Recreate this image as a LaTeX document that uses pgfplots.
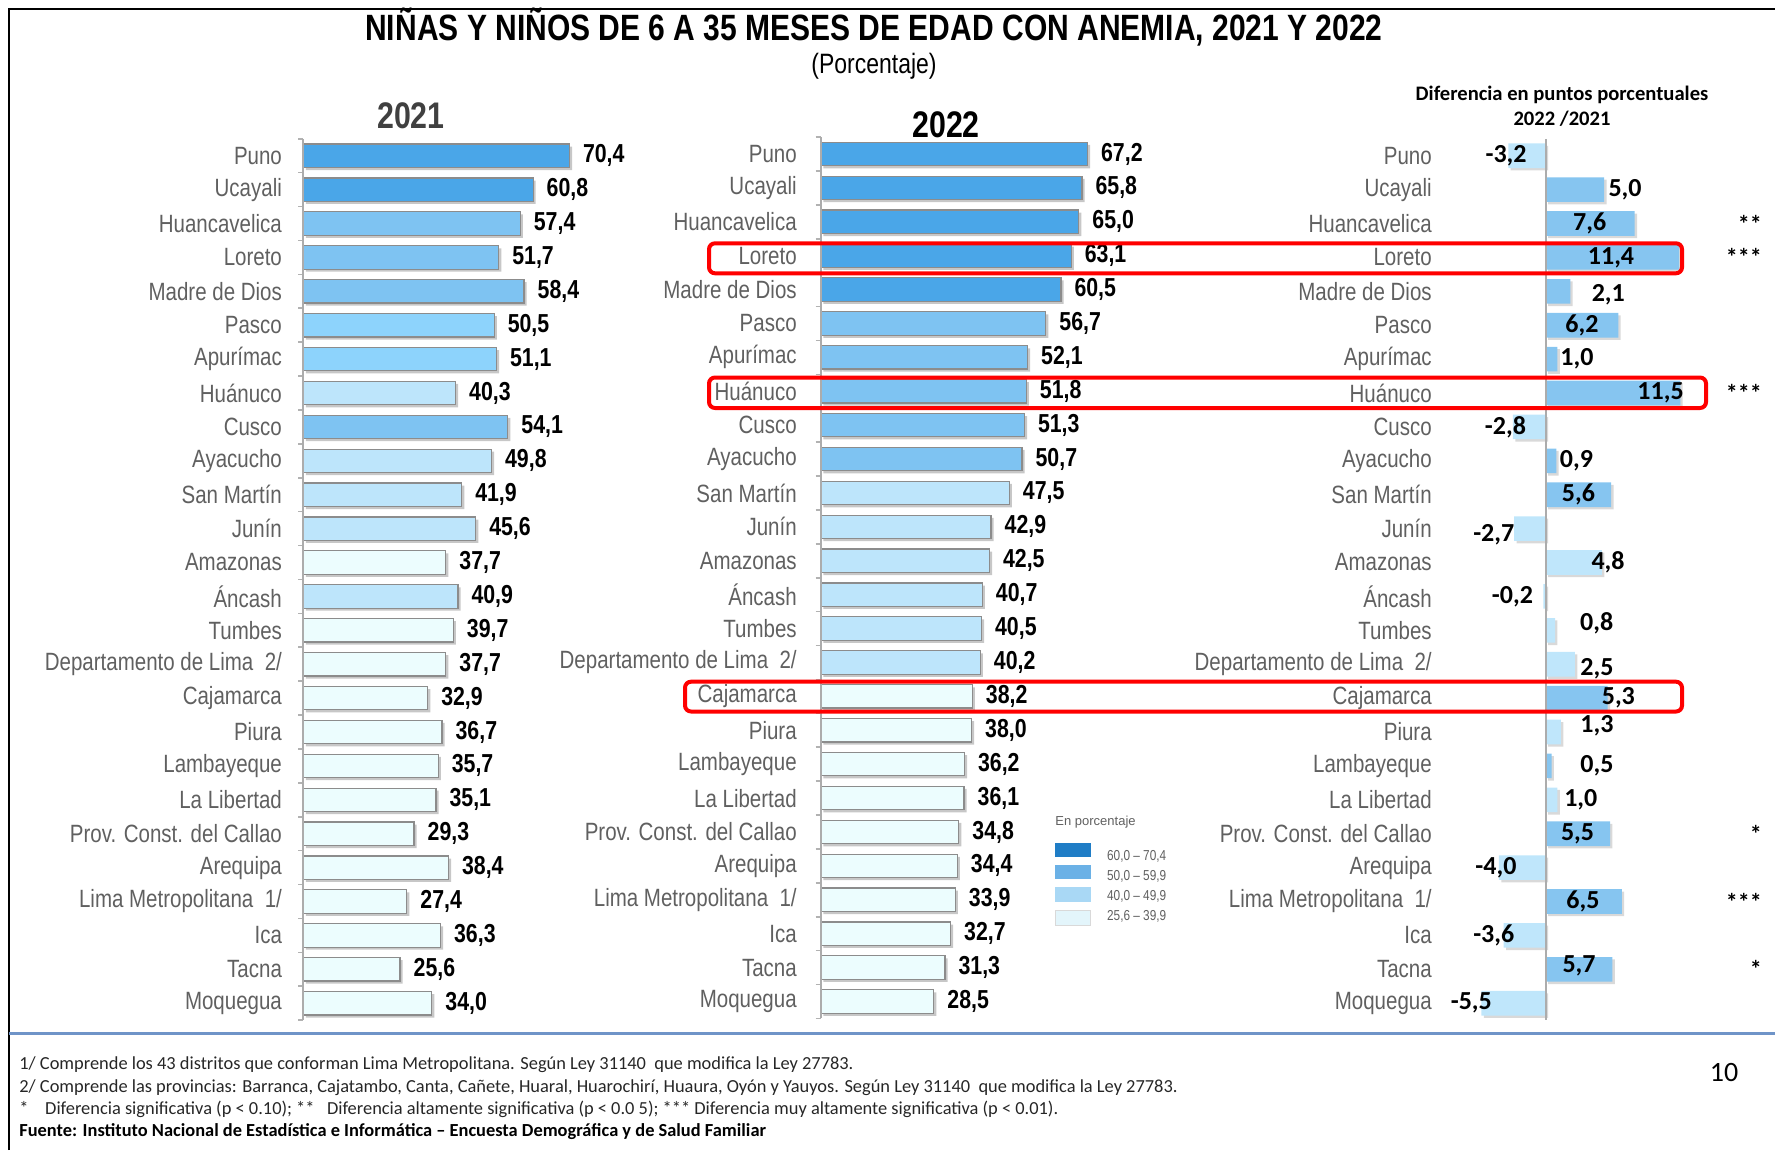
\documentclass[border=0pt]{standalone}
\usepackage{pgfplots}
\pgfplotsset{compat=1.18}
\usepackage{fontspec}
\setmainfont{Liberation Sans}
\newfontfamily\nar[FakeStretch=0.82]{Liberation Sans}
\newfontfamily\calfont{Carlito}

\definecolor{cA}{HTML}{4AA6E8}
\definecolor{cB}{HTML}{7EC3F2}
\definecolor{cBb}{HTML}{8DD3FC}
\definecolor{cC}{HTML}{BDE5FB}
\definecolor{cD}{HTML}{ECFDFE}
\definecolor{dM}{HTML}{86C5F0}
\definecolor{dL}{HTML}{BFE6FB}
\definecolor{catgray}{HTML}{606060}
\definecolor{barline}{HTML}{8C8C8C}
\definecolor{lg1}{HTML}{1F7DC6}
\definecolor{lg2}{HTML}{6BB1E6}
\definecolor{lg3}{HTML}{A9D8F5}
\definecolor{lg4}{HTML}{E3F5FB}
\definecolor{sepblue}{HTML}{6F94C8}

\pgfplotsset{
  panel/.style={
    scale only axis, height=440.7pt, ymin=-0.5, ymax=25.5, y dir=reverse,
    separate axis lines, axis line style={draw=none},
    xtick=\empty, ytick={0,...,25}, major tick length=0pt, major tick style={draw=none},
    yticklabels={Puno,Ucayali,Huancavelica,Loreto,Madre de Dios,Pasco,Apurímac,Huánuco,Cusco,Ayacucho,San Martín,Junín,Amazonas,Áncash,Tumbes,Departamento de Lima~~2/,Cajamarca,Piura,Lambayeque,La Libertad,Prov. Const. del Callao,Arequipa,Lima Metropolitana~~1/,Ica,Tacna,Moquegua},
    yticklabel style={font=\nar\fontsize{12.5}{14}\selectfont, text=catgray, anchor=east, inner sep=0pt},
    clip=false,
  },
  sidet/.style={
    minor ytick={-0.5,0.5,...,25.5}, ytick pos=left, tick align=outside,
    minor tick length=2.5pt, minor tick style={draw=gray!60, line width=0.8pt},
  },
  hb/.style={xbar, bar width=11.7pt, bar shift=0pt, draw=barline, line width=0.6pt, fill=#1,
    preaction={fill=black!22, draw=none, transform canvas={xshift=1.3pt, yshift=-1.3pt}}},
  hd/.style={xbar, bar width=12.3pt, bar shift=0pt, draw=none, fill=#1,
    preaction={fill=black!15, transform canvas={xshift=1.2pt, yshift=-1.2pt}}},
  vals/.style={
    point meta=x,
    nodes near coords={\pgfmathprintnumber[fixed,fixed zerofill,precision=1,use comma,assume math mode=true]{\pgfplotspointmeta}},
    every node near coord/.append style={anchor=west, inner sep=0pt, xshift=6.5pt, font=\nar\bfseries\fontsize{13}{14}\selectfont, text=black},
  },
}

\begin{document}
\begin{tikzpicture}[x=0.5pt,y=-0.5pt]
\path[use as bounding box] (0,0) rectangle (1775,1150);
\draw[black, line width=1pt] (9,1150) -- (9,9) -- (1775,9);

% titles
\node[font=\nar\bfseries\fontsize{18.3}{20}\selectfont] at (874,27) {NIÑAS Y NIÑOS DE 6 A 35 MESES DE EDAD CON ANEMIA, 2021 Y 2022};
\node[font=\nar\fontsize{14}{16}\selectfont] at (874,66) {(Porcentaje)};
\node[font=\nar\bfseries\fontsize{18.5}{20}\selectfont, text=black!75] at (411,115.5) {2021};
\node[font=\nar\bfseries\fontsize{18.5}{20}\selectfont] at (946,124.5) {2022};
\node[font=\calfont\bfseries\fontsize{10.3}{12.5}\selectfont, align=center] at (1562,106) {Diferencia en puntos porcentuales\\2022 /2021};

% ---------- 2021 ----------
\begin{axis}[panel, sidet, vals, at={(151.65pt,-69.375pt)}, anchor=north west, width=141.75pt,
  xmin=0, xmax=75, yticklabel style={xshift=-10.5pt}]
\addplot[hb=cA] coordinates {(70.4,0) (60.8,1)};
\addplot[hb=cB] coordinates {(57.4,2) (51.7,3) (58.4,4) (54.1,8)};
\addplot[hb=cBb] coordinates {(50.5,5) (51.1,6)};
\addplot[hb=cC] coordinates {(40.3,7) (49.8,9) (41.9,10) (45.6,11) (40.9,13)};
\addplot[hb=cD] coordinates {(37.7,12) (39.7,14) (37.7,15) (32.9,16) (36.7,17) (35.7,18) (35.1,19) (29.3,20) (38.4,21) (27.4,22) (36.3,23) (25.6,24) (34.0,25)};
\draw[gray!65, line width=1pt] (axis cs:0,-0.5) -- (axis cs:0,25.5);
\end{axis}

% ---------- 2022 ----------
\begin{axis}[panel, sidet, vals, at={(410.35pt,-68.5pt)}, anchor=north west, width=148.9pt,
  xmin=0, xmax=75, yticklabel style={xshift=-11.8pt}]
\addplot[hb=cA] coordinates {(67.2,0) (65.8,1) (65.0,2) (63.1,3) (60.5,4)};
\addplot[hb=cB] coordinates {(56.7,5) (52.1,6) (51.8,7) (51.3,8) (50.7,9)};
\addplot[hb=cC] coordinates {(47.5,10) (42.9,11) (42.5,12) (40.7,13) (40.5,14) (40.2,15)};
\addplot[hb=cD] coordinates {(38.2,16) (38.0,17) (36.2,18) (36.1,19) (34.8,20) (34.4,21) (33.9,22) (32.7,23) (31.3,24) (28.5,25)};
\draw[gray!65, line width=1pt] (axis cs:0,-0.5) -- (axis cs:0,25.5);
\end{axis}

% ---------- Diferencia ----------
\begin{axis}[panel, at={(726.05pt,-69.375pt)}, anchor=north west, width=152.1pt,
  xmin=-8, xmax=18, yticklabel style={xshift=-10pt}]
\addplot[hd=dM] coordinates {(5.0,1) (7.6,2) (11.4,3) (2.1,4) (6.2,5) (1.0,6) (11.5,7) (0.9,9) (5.6,10) (5.3,16) (0.5,18) (5.5,20) (6.5,22) (5.7,24)};
\addplot[hd=dL] coordinates {(-3.2,0) (-2.8,8) (-2.7,11) (4.8,12) (-0.2,13) (0.8,14) (2.5,15) (1.3,17) (1.0,19) (-4.0,21) (-3.6,23) (-5.5,25)};
\draw[gray!65, line width=1pt] (axis cs:0,-0.5) -- (axis cs:0,25.5);
\addplot[only marks, mark=none, point meta=explicit symbolic, nodes near coords={\pgfplotspointmeta},
  every node near coord/.append style={anchor=center, inner sep=0pt, font=\calfont\bfseries\fontsize{13}{14}\selectfont, text=black}]
  table[meta=lab] {
x y lab
-3.39 0 -3,2
6.78 1 5,0
3.76 2 7,6
5.58 3 11,4
5.35 4.1 2,1
3.1 5 6,2
2.67 6 1,0
9.82 7 11,5
-3.44 8 -2,8
2.63 9 0,9
2.8 10 5,6
-4.44 11.17 -2,7
5.33 12 4,8
-2.84 13 -0,2
4.36 13.8 0,8
4.38 15.12 2,5
6.21 16 5,3
4.38 16.8 1,3
4.38 18 0,5
3.0 19 1,0
2.72 20 5,5
-4.25 21 -4,0
3.18 22 6,5
-4.44 23 -3,6
2.85 23.9 5,7
-6.36 25 -5,5
};
\addplot[only marks, mark=none, point meta=explicit symbolic, nodes near coords={\pgfplotspointmeta},
  every node near coord/.append style={anchor=east, inner sep=0pt, font=\calfont\bfseries\fontsize{12}{13}\selectfont, text=black}]
  table[meta=lab] {
x y lab
18.5 2 **
18.5 3 ***
18.5 7 ***
18.5 20 *
18.5 22 ***
18.5 24 *
};
\end{axis}

% red highlight boxes
\draw[red, line width=2pt, rounded corners=3pt] (709,243.3) rectangle (1682,273.3);
\draw[red, line width=2pt, rounded corners=3pt] (709,377.5) rectangle (1706,408);
\draw[red, line width=2pt, rounded corners=3pt] (685,681.7) rectangle (1682,711.5);

% legend
\node[anchor=west, inner sep=0pt, font=\fontsize{6.5}{7}\selectfont, text=catgray] at (1055,822) {En porcentaje};
\fill[lg1] (1055,842.7) rectangle (1090.7,856.7);
\fill[lg2] (1055,865) rectangle (1090.7,879.3);
\fill[lg3] (1055,887.3) rectangle (1090.7,901.7);
\filldraw[fill=lg4, draw=gray!30, line width=0.3pt] (1055,910) rectangle (1090.7,925);
\begin{scope}[every node/.style={anchor=west, inner sep=0pt, font=\nar\fontsize{7.2}{8}\selectfont, text=catgray}]
\node at (1106.7,856.7) {60,0 – 70,4};
\node at (1106.7,876) {50,0 – 59,9};
\node at (1106.7,896) {40,0 – 49,9};
\node at (1106.7,916.7) {25,6 – 39,9};
\end{scope}

% separator and footnotes
\draw[sepblue, line width=1.5pt] (9,1033) -- (1775,1033);
\begin{scope}[every node/.style={anchor=west, inner sep=0pt, font=\calfont\fontsize{9.2}{10}\selectfont, text=black!85}]
\node at (19,1065) {1/ Comprende los 43 distritos que conforman Lima Metropolitana. Según Ley 31140~ que modifica la Ley 27783.};
\node at (19,1088) {2/ Comprende las provincias: Barranca, Cajatambo, Canta, Cañete, Huaral, Huarochirí, Huaura, Oyón y Yauyos. Según Ley 31140~ que modifica la Ley 27783.};
\node at (19,1109) {*~~~ Diferencia significativa (p < 0.10); **~~ Diferencia altamente significativa (p < 0.0 5); *** Diferencia muy altamente significativa (p < 0.01).};
\node[font=\calfont\bfseries\fontsize{9.2}{10}\selectfont, text=black] at (19,1132) {Fuente: Instituto Nacional de Estadística e Informática – Encuesta Demográfica y de Salud Familiar};
\end{scope}
\node[font=\calfont\fontsize{14}{16}\selectfont] at (1724,1072) {10};
\end{tikzpicture}
\end{document}
